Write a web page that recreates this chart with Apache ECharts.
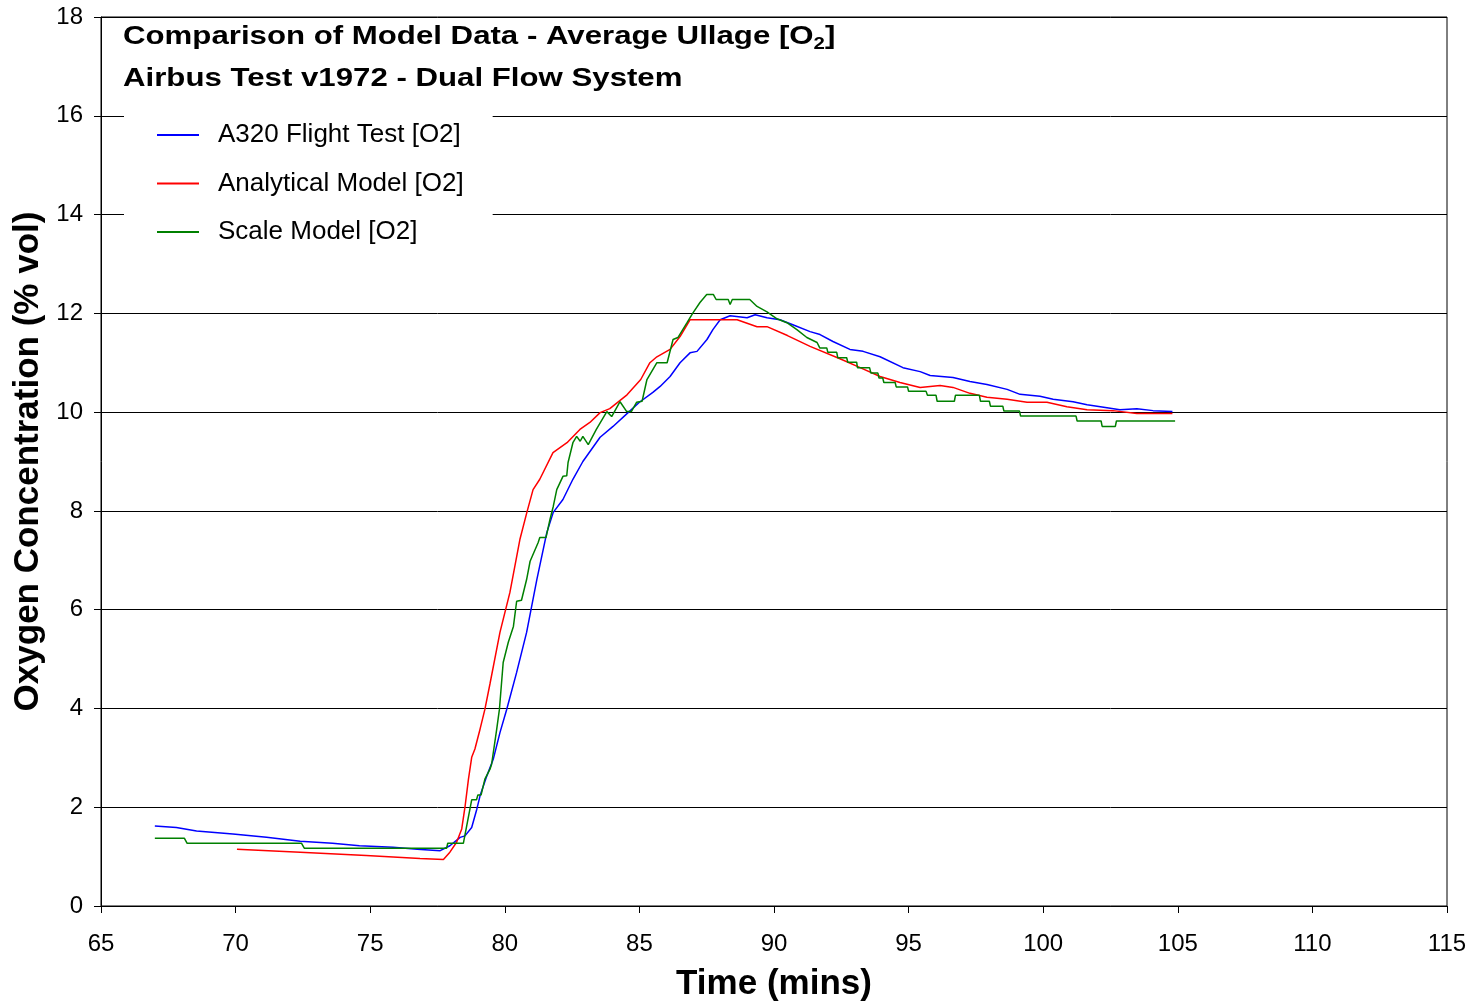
<!DOCTYPE html>
<html>
<head>
<meta charset="utf-8">
<script src="https://cdn.jsdelivr.net/npm/echarts@6/dist/echarts.min.js"></script>
<style>
html,body{margin:0;padding:0;background:#fff;}
#chart{width:1476px;height:1007px;}
</style>
</head>
<body>
<div id="chart"></div>
<script>
// ---- Data ----
const seriesNames = ['A320 Flight Test [O2]', 'Analytical Model [O2]', 'Scale Model [O2]'];

const flightTime = [67.0,67.8,68.55,69.9,71.15,72.4,73.6,74.6,75.85,76.75,77.6,77.96,78.34,78.52,78.77,78.96,79.08,79.33,79.57,79.82,80.07,80.44,80.81,81.19,81.56,81.8,82.16,82.53,82.9,83.54,84.02,84.6,85.0,85.5,85.77,86.14,86.51,86.88,87.14,87.51,87.73,88.0,88.37,89.0,89.3,89.74,90.22,90.7,91.34,91.71,92.19,92.82,93.31,93.94,94.79,95.43,95.8,96.65,97.28,97.91,98.66,99.14,99.88,100.37,101.11,101.63,102.37,102.85,103.48,104.08,104.8];
const flightO2 = [1.62,1.59,1.52,1.46,1.39,1.31,1.27,1.22,1.19,1.15,1.12,1.22,1.39,1.42,1.59,1.96,2.23,2.63,2.97,3.51,3.98,4.73,5.54,6.61,7.56,7.97,8.23,8.64,9.0,9.49,9.71,10.0,10.2,10.4,10.52,10.72,11.0,11.2,11.23,11.47,11.67,11.87,11.95,11.91,11.97,11.91,11.87,11.77,11.63,11.57,11.43,11.27,11.23,11.12,10.9,10.82,10.74,10.7,10.62,10.56,10.46,10.36,10.32,10.26,10.21,10.15,10.09,10.05,10.07,10.03,10.01];

const analyticalTime = [70.05,72.4,74.85,76.85,77.72,77.96,78.21,78.4,78.52,78.65,78.77,78.89,79.08,79.26,79.45,79.82,80.19,80.56,80.82,81.05,81.3,81.79,82.31,82.79,83.16,83.54,83.9,84.54,85.05,85.39,85.65,86.14,86.51,86.88,88.63,89.0,89.37,89.74,90.5,91.34,92.45,93.2,93.94,94.68,95.43,96.17,96.65,97.28,97.91,98.66,99.4,100.14,100.88,101.63,102.59,103.48,104.8];
const analyticalO2 = [1.15,1.09,1.02,0.96,0.94,1.09,1.29,1.56,2.0,2.57,3.01,3.18,3.58,3.98,4.5,5.54,6.35,7.42,7.97,8.43,8.64,9.18,9.38,9.65,9.79,9.99,10.07,10.35,10.66,11.0,11.12,11.27,11.53,11.87,11.87,11.8,11.73,11.73,11.55,11.33,11.08,10.9,10.72,10.6,10.5,10.54,10.5,10.38,10.3,10.26,10.2,10.2,10.11,10.05,10.03,9.97,9.97];

const scaleTime = [67.0,68.1,68.2,72.45,72.55,77.84,77.88,78.46,78.77,78.95,79.0,79.12,79.26,79.45,79.51,79.7,79.8,79.94,80.13,80.32,80.44,80.62,80.81,80.94,81.24,81.3,81.53,81.68,81.8,81.93,82.16,82.3,82.35,82.53,82.67,82.8,82.9,83.1,83.4,83.79,83.97,84.28,84.53,84.7,84.9,85.1,85.28,85.65,86.03,86.25,86.43,86.77,86.99,87.25,87.5,87.75,87.85,88.3,88.37,88.45,89.1,89.37,89.74,90.11,90.48,90.85,91.22,91.6,91.7,91.96,92.0,92.33,92.37,92.7,92.74,93.07,93.1,93.55,93.6,93.86,93.9,94.04,94.08,94.5,94.54,94.96,95.0,95.65,95.7,96.02,96.06,96.7,96.74,97.63,97.67,98.0,98.04,98.5,98.54,99.12,99.16,101.22,101.26,102.15,102.19,102.68,102.72,104.9];
const scaleO2 = [1.37,1.37,1.27,1.27,1.17,1.17,1.27,1.27,2.15,2.15,2.25,2.25,2.57,2.77,2.87,3.58,3.98,4.93,5.34,5.66,6.17,6.19,6.61,6.98,7.36,7.46,7.46,7.83,8.09,8.43,8.7,8.71,8.98,9.38,9.51,9.41,9.51,9.34,9.65,10.01,9.91,10.21,10.01,10.01,10.2,10.22,10.66,11.0,11.0,11.47,11.51,11.81,12.01,12.22,12.38,12.38,12.28,12.28,12.18,12.28,12.28,12.14,12.03,11.89,11.81,11.67,11.51,11.41,11.3,11.3,11.21,11.21,11.1,11.1,11.01,11.01,10.9,10.9,10.79,10.79,10.69,10.69,10.6,10.6,10.51,10.51,10.42,10.42,10.34,10.34,10.22,10.22,10.34,10.34,10.22,10.22,10.12,10.12,10.02,10.02,9.92,9.92,9.82,9.82,9.71,9.71,9.82,9.82];

const xTicks = {min: 65, max: 115, step: 5};
const yTicks = {min: 0, max: 18, step: 2};

const titleLine1 = 'Comparison of Model Data - Average Ullage [O{sub|2}]';
const titleLine2 = 'Airbus Test v1972 - Dual Flow System';
const xTitle = 'Time (mins)';
const yTitle = 'Oxygen Concentration (% vol)';

// ---- Build ----
function zip(a, b) { return a.map((v, i) => [v, b[i]]); }
const FONT = '"Liberation Sans", Arial, sans-serif';

function titleText(txt, y) {
  return {
    type: 'text', x: 123, y: y, scaleX: 1.2, z: 10,
    style: {
      text: txt, fontFamily: FONT, fontSize: 26, fontWeight: 'bold', fill: '#000',
      align: 'left', verticalAlign: 'middle',
      rich: {
        sub: {fontFamily: FONT, fontSize: 17, fontWeight: 'bold', fill: '#000', verticalAlign: 'bottom', padding: [14, 0, 0, 0]}
      }
    }
  };
}

const chart = echarts.init(document.getElementById('chart'), null, {renderer: 'canvas'});
chart.setOption({
  animation: false,
  backgroundColor: '#fff',
  textStyle: {fontFamily: FONT},
  graphic: [titleText(titleLine1, 37), titleText(titleLine2, 79)],
  legend: {
    orient: 'vertical',
    left: 124, top: 107,
    padding: [15, 29, 20, 33],
    backgroundColor: '#fff',
    icon: 'rect',
    itemWidth: 42, itemHeight: 2, itemGap: 22.5,
    data: seriesNames,
    textStyle: {fontFamily: FONT, fontSize: 26, color: '#000', padding: [0, 0, 0, 14]}
  },
  grid: {
    left: 101, right: 29, top: 17, bottom: 98,
    show: true, borderColor: '#000', borderWidth: 1, backgroundColor: 'transparent'
  },
  xAxis: {
    type: 'value', min: xTicks.min, max: xTicks.max, interval: xTicks.step,
    name: xTitle, nameLocation: 'middle', nameGap: 61,
    nameTextStyle: {fontFamily: FONT, fontSize: 35, fontWeight: 'bold', color: '#000'},
    axisLine: {show: true, onZero: false, lineStyle: {color: '#000', width: 1}},
    axisTick: {show: true, inside: false, length: 7, lineStyle: {color: '#000'}},
    axisLabel: {fontFamily: FONT, fontSize: 24, color: '#000', margin: 26},
    splitLine: {show: false}
  },
  yAxis: {
    type: 'value', min: yTicks.min, max: yTicks.max, interval: yTicks.step,
    name: yTitle, nameLocation: 'middle', nameGap: 54,
    nameTextStyle: {fontFamily: FONT, fontSize: 35, fontWeight: 'bold', color: '#000'},
    axisLine: {show: true, lineStyle: {color: '#000', width: 1}},
    axisTick: {show: true, inside: false, length: 7, lineStyle: {color: '#000'}},
    axisLabel: {fontFamily: FONT, fontSize: 24, color: '#000', margin: 18},
    splitLine: {show: true, lineStyle: {color: '#000', width: 1}}
  },
  series: [
    {name: seriesNames[0], type: 'line', data: zip(flightTime, flightO2), symbol: 'none', lineStyle: {color: '#0000ff', width: 1.5}, itemStyle: {color: '#0000ff'}, z: 3},
    {name: seriesNames[1], type: 'line', data: zip(analyticalTime, analyticalO2), symbol: 'none', lineStyle: {color: '#ff0000', width: 1.5}, itemStyle: {color: '#ff0000'}, z: 4},
    {name: seriesNames[2], type: 'line', data: zip(scaleTime, scaleO2), symbol: 'none', lineStyle: {color: '#008000', width: 1.5}, itemStyle: {color: '#008000'}, z: 5}
  ]
});
</script>
</body>
</html>
